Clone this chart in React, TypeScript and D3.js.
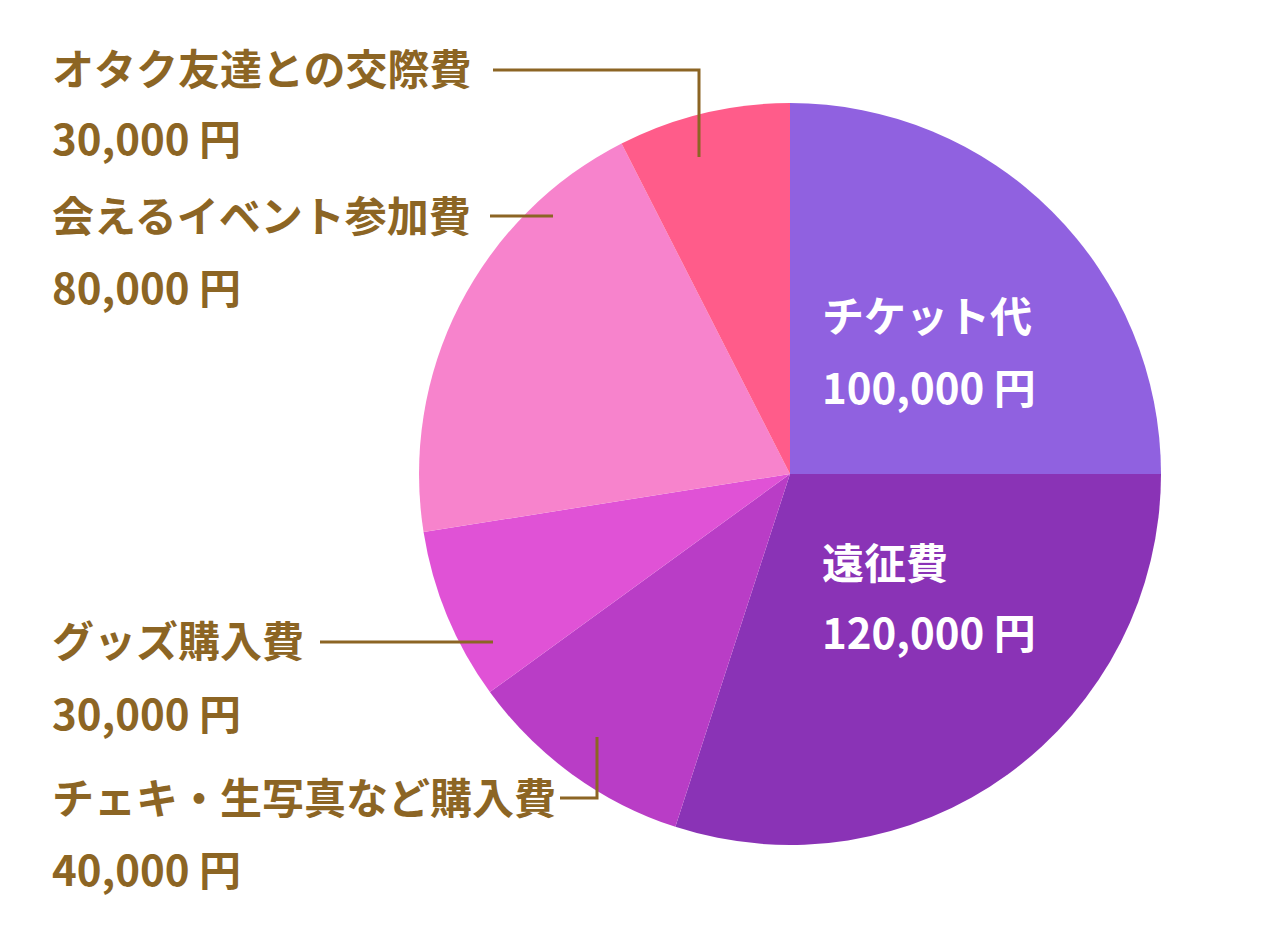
import React from "react";
import * as d3 from "d3";

const categories = [
  "チケット代",
  "遠征費",
  "チェキ・生写真など購入費",
  "グッズ購入費",
  "会えるイベント参加費",
  "オタク友達との交際費",
];
const values = [100000, 120000, 40000, 30000, 80000, 30000];
const colors = ["#9061E0", "#8A33B6", "#B93DC6", "#E052D6", "#F783CC", "#FF5C8A"];

const W = 1280;
const H = 937;
const CX = 790;
const CY = 474;
const R = 371;
const BROWN = "#8C6524";
const FONT = "'Noto Sans CJK JP', 'Noto Sans', sans-serif";

const fmt = (v: number) => d3.format(",")(v) + " 円";

// label layout: [category index, x, nameBaseline, valueBaseline, fill]
const labelLayout: { i: number; x: number; y1: number; y2: number; fill: string }[] = [
  { i: 5, x: 52, y1: 85, y2: 155, fill: BROWN },
  { i: 4, x: 52, y1: 232, y2: 304, fill: BROWN },
  { i: 3, x: 52, y1: 657, y2: 730, fill: BROWN },
  { i: 2, x: 52, y1: 814, y2: 886, fill: BROWN },
  { i: 0, x: 822, y1: 332, y2: 404, fill: "#FFFFFF" },
  { i: 1, x: 822, y1: 579, y2: 649, fill: "#FFFFFF" },
];

const leaders: [number, number][][] = [
  [[493, 70], [699, 70], [699, 157]],
  [[490, 216], [553, 216]],
  [[320, 642], [493, 642]],
  [[560, 798], [597, 798], [597, 737]],
];

export default function App() {
  React.useEffect(() => {
    document.body.style.margin = "0";
  }, []);
  const data = categories.map((c, i) => ({ name: c, value: values[i], color: colors[i] }));
  const pie = d3.pie<any>().sort(null).value((d: any) => d.value);
  const arcs = pie(data);
  const arc = d3.arc<any>().innerRadius(0).outerRadius(R);
  const line = d3.line();

  return (
    <svg width={W} height={H} style={{ display: "block", background: "#fff" }}>
      <rect width={W} height={H} fill="#fff" />
      <g transform={`translate(${CX},${CY})`}>
        {arcs.map((a, i) => (
          <path key={i} d={arc(a) as string} fill={a.data.color} />
        ))}
      </g>
      {leaders.map((pts, i) => (
        <path key={i} d={line(pts) as string} fill="none" stroke={BROWN} strokeWidth={3} />
      ))}
      {labelLayout.map((l, k) => (
        <g key={k} fontFamily={FONT} fontWeight={700} fontSize={42} fill={l.fill}>
          <text x={l.x} y={l.y1}>{categories[l.i]}</text>
          <text x={l.x} y={l.y2}>{fmt(values[l.i])}</text>
        </g>
      ))}
    </svg>
  );
}
